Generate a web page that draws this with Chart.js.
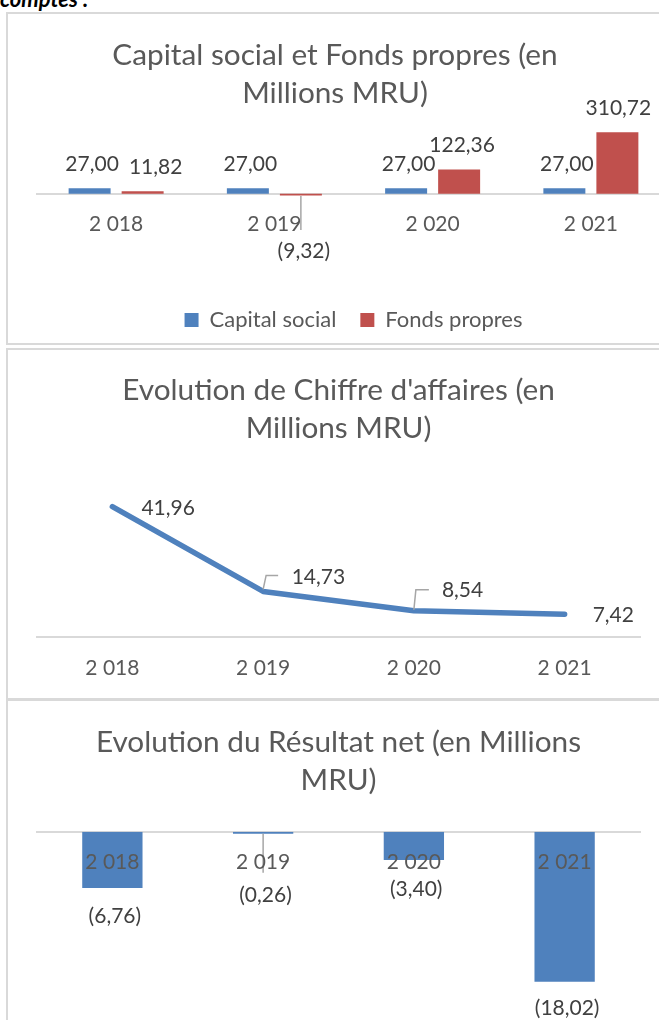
<!DOCTYPE html>
<html><head><meta charset="utf-8">
<script src="https://cdn.jsdelivr.net/npm/chart.js@4.4.1/dist/chart.umd.min.js"></script>
<style>
html,body{margin:0;padding:0;background:#fff;overflow:hidden;width:659px;height:1020px}
#page{position:relative;width:659px;height:1020px;overflow:hidden;background:#fff}
.frame{position:absolute;left:6px;width:720px;border:2px solid #d9d9d9;box-sizing:border-box}
canvas{position:absolute;left:0}
#head{position:absolute;left:0;top:-12px;font-family:Lato;font-style:italic;font-weight:bold;font-size:22px;line-height:1;color:#000;white-space:nowrap}
</style></head>
<body><div id="page">
<div id="head">comptes :</div>
<div class="frame" style="top:12px;height:333px"></div>
<div class="frame" style="top:348px;height:352px"></div>
<div class="frame" style="top:699px;height:400px"></div>
<canvas id="c1" width="672" height="330" style="top:14px;width:672px;height:330px"></canvas>
<canvas id="c2" width="659" height="348" style="top:350px;width:659px;height:348px"></canvas>
<canvas id="c3" width="659" height="318" style="top:702px;width:659px;height:318px"></canvas>
</div>
<script>
// ---- data ----
const years = ['2 018', '2 019', '2 020', '2 021'];
const seriesNames = ['Capital social', 'Fonds propres'];
const capitalSocial = [27.00, 27.00, 27.00, 27.00];
const fondsPropres = [11.82, -9.32, 122.36, 310.72];
const chiffreAffaires = [41.96, 14.73, 8.54, 7.42];
const resultatNet = [-6.76, -0.26, -3.40, -18.02];
const title1 = ['Capital social et Fonds propres (en', 'Millions MRU)'];
const title2 = ["Evolution de Chiffre d'affaires (en", 'Millions MRU)'];
const title3 = ['Evolution du Résultat net (en Millions', 'MRU)'];

// ---- style ----
const BLUE = '#4F81BD', RED = '#C0504D';
const TXT = '#595959', LBL = '#404040', AXIS = '#d9d9d9', LEADER = '#a6a6a6';
const FONT = 'Lato';
Chart.defaults.font.family = FONT;
Chart.defaults.animation = false;

const fmt = v => { const s = Math.abs(v).toFixed(2).replace('.', ','); return v < 0 ? '(' + s + ')' : s; };

function makeLabelPlugin(layout) {
  return {
    id: 'valueLabels',
    afterDatasetsDraw(chart) {
      const ctx = chart.ctx;
      ctx.save();
      ctx.font = '21px ' + FONT;
      ctx.textBaseline = 'middle';
      chart.data.datasets.forEach((ds, di) => {
        const meta = chart.getDatasetMeta(di);
        const cfg = layout[di];
        meta.data.forEach((el, i) => {
          const v = ds.data[i];
          const p = cfg[i];
          const ax = el.x;
          let ay;
          if (p.anchor === 'point') ay = el.y;
          else ay = v >= 0 ? Math.min(el.y, el.base) : Math.max(el.y, el.base);
          if (p.leader) {
            ctx.strokeStyle = LEADER; ctx.lineWidth = 1.5;
            ctx.beginPath();
            p.leader.forEach(([lx, ly], k) => k ? ctx.lineTo(ax + lx, ay + ly) : ctx.moveTo(ax + lx, ay + ly));
            ctx.stroke();
          }
          ctx.fillStyle = LBL;
          ctx.textAlign = p.align || 'center';
          ctx.fillText(fmt(v), ax + p.dx, ay + p.dy);
        });
      });
      ctx.restore();
    }
  };
}

const tickFont = { family: FONT, size: 21 };
const titleFont = { family: FONT, size: 29.75, weight: 'normal', lineHeight: '38px' };
function xAxis(extra) {
  return Object.assign({
    position: { y: 0 },
    grid: { display: false, drawTicks: false },
    border: { display: true, color: AXIS, width: 2 },
    ticks: { color: TXT, font: tickFont, padding: 18.4, maxRotation: 0, autoSkip: false }
  }, extra || {});
}

// ---- chart 1 ----
new Chart(document.getElementById('c1'), {
  type: 'bar',
  data: {
    labels: years,
    datasets: [
      { label: seriesNames[0], data: capitalSocial, backgroundColor: BLUE, borderWidth: 0 },
      { label: seriesNames[1], data: fondsPropres, backgroundColor: RED, borderWidth: 0 }
    ]
  },
  options: {
    responsive: false, devicePixelRatio: 1,
    layout: { padding: { left: 0, right: 2, top: 0, bottom: 3 } },
    datasets: { bar: { categoryPercentage: 0.67, barPercentage: 0.792 } },
    scales: {
      x: xAxis(),
      y: { display: true, min: -462.2, max: 350, grid: { display: false }, border: { display: false },
           ticks: { display: false }, afterFit: s => { s.width = 37; } }
    },
    plugins: {
      title: { display: true, text: title1, color: TXT, font: titleFont, padding: { top: 22, bottom: 12.5 } },
      legend: { display: true, position: 'bottom', fullSize: false,
        labels: { color: TXT, font: { family: FONT, size: 22 }, boxWidth: 14, boxHeight: 14, padding: 24 } },
      tooltip: { enabled: false }
    }
  },
  plugins: [makeLabelPlugin([
    [ {dx: 2.5, dy: -24.5}, {dx: 2.5, dy: -24.5}, {dx: 2.5, dy: -24.5}, {dx: 2.5, dy: -24.5} ],
    [ {dx: 13, dy: -24.5}, {dx: 3, dy: 56.2, leader: [[0, 0.5], [0, 34.5]]}, {dx: 3, dy: -24.5}, {dx: 1, dy: -24.5} ]
  ])]
});

// ---- chart 2 ----
new Chart(document.getElementById('c2'), {
  type: 'line',
  data: {
    labels: years,
    datasets: [{ label: 'Chiffre d\'affaires', data: chiffreAffaires, borderColor: BLUE, borderWidth: 5.5,
      pointRadius: 0, tension: 0, fill: false, borderCapStyle: 'round', borderJoinStyle: 'round' }]
  },
  options: {
    responsive: false, devicePixelRatio: 1,
    layout: { padding: { left: 37, right: 19, top: 0, bottom: 60.7 } },
    scales: {
      x: xAxis({ offset: true }),
      y: { display: false, min: 0, max: 50 }
    },
    plugins: {
      title: { display: true, text: title2, color: TXT, font: titleFont, padding: { top: 21, bottom: 34.7 } },
      legend: { display: false },
      tooltip: { enabled: false }
    }
  },
  plugins: [makeLabelPlugin([
    [ {anchor: 'point', align: 'left', dx: 29, dy: 1.6},
      {anchor: 'point', align: 'left', dx: 28.5, dy: -14.4, leader: [[0, -2], [3, -16], [15, -16]]},
      {anchor: 'point', align: 'left', dx: 28, dy: -20, leader: [[0, -1], [2, -21], [15, -21]]},
      {anchor: 'point', align: 'left', dx: 28, dy: 0.8} ]
  ])]
});

// ---- chart 3 ----
new Chart(document.getElementById('c3'), {
  type: 'bar',
  data: {
    labels: years,
    datasets: [{ label: 'Résultat net', data: resultatNet, backgroundColor: BLUE, borderWidth: 0 }]
  },
  options: {
    responsive: false, devicePixelRatio: 1,
    layout: { padding: { left: 37, right: 19, top: 0, bottom: 21.9 } },
    datasets: { bar: { categoryPercentage: 1, barPercentage: 0.4 } },
    scales: {
      x: xAxis({ ticks: { color: TXT, font: tickFont, padding: 18.4, maxRotation: 0, autoSkip: false, z: 1 } }),
      y: { display: false, min: -20, max: 0 }
    },
    plugins: {
      title: { display: true, text: title3, color: TXT, font: titleFont, padding: { top: 21, bottom: 32.7 } },
      legend: { display: false },
      tooltip: { enabled: false }
    }
  },
  plugins: [makeLabelPlugin([
    [ {dx: 2.5, dy: 28.3}, {dx: 2.4, dy: 61, leader: [[0, 0], [0, 39]]}, {dx: 2.3, dy: 29.3}, {dx: 2.5, dy: 26.3} ]
  ])]
});
</script>
</body></html>
